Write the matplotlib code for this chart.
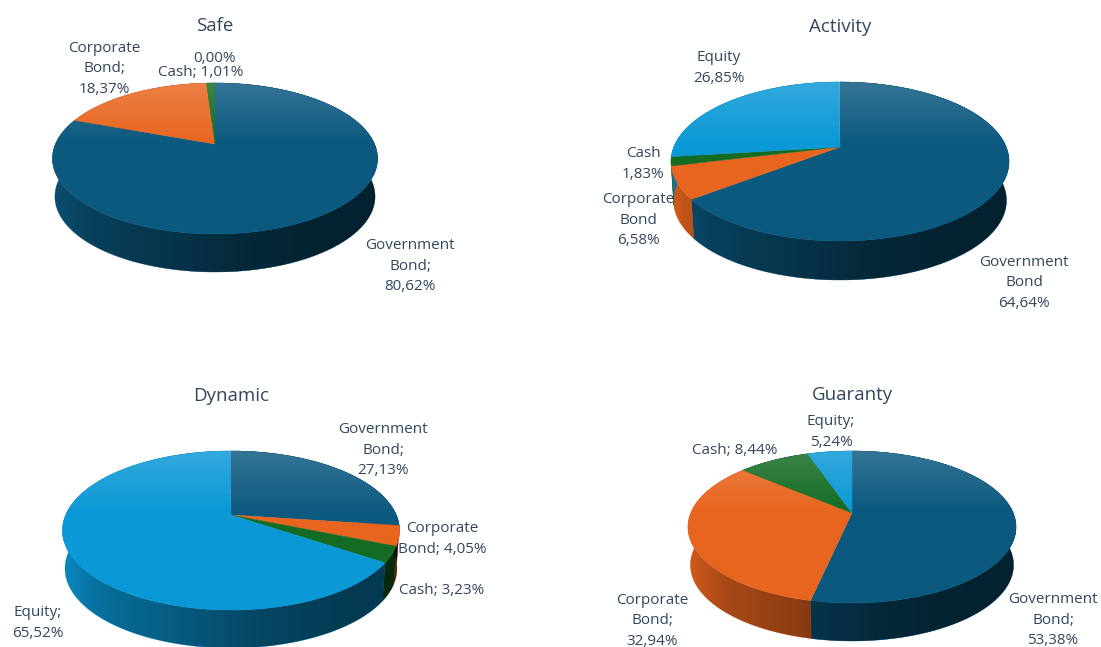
#Four pseudo 3D pie charts of the portfolio allocation, drawn in pixel coordinates of one big axes
import numpy as np
import matplotlib
matplotlib.use('Agg')
import matplotlib.pyplot as plt
from matplotlib.patches import Polygon

plt.rcParams['font.family'] = ['Open Sans', 'DejaVu Sans']

categories = ['Government Bond', 'Corporate Bond', 'Cash', 'Equity']
safe_values = [80.62, 18.37, 1.01, 0.00]
activity_values = [64.64, 6.58, 1.83, 26.85]
dynamic_values = [27.13, 4.05, 3.23, 65.52]
guaranty_values = [53.38, 32.94, 8.44, 5.24]
titles = ['Safe', 'Activity', 'Dynamic', 'Guaranty']

colors = ['#0b597f', '#e8651f', '#146c24', '#0a98d6']
text_color = '#34465c'

W, H = 1101, 647
fig = plt.figure(figsize=(W/100, H/100), dpi=100)
ax = fig.add_axes([0, 0, 1, 1])
ax.set_xlim(0, W)
ax.set_ylim(H, 0)
ax.axis('off')


def project(theta, cx, cy, left, right, top, bottom):
    """Perspective map of the unit circle. theta is clockwise from 12 o'clock, (cx, cy) is the apex"""
    k = (bottom - top)/(bottom + top)
    s = top*(1 + k)
    rx = (right - left)/2*np.sqrt(1 - k**2)
    u, v = np.sin(theta), np.cos(theta)
    w = 1 + k*v
    return cx + rx*u/w, cy - s*v/w


def draw_pie(values, cx, cy, left, right, top, bottom, depth):
    edges = np.cumsum([0] + list(values))/100*2*np.pi
    geom = (cx, cy, left, right, top, bottom)
    # side wall first, the top face covers whatever is behind it
    wall = []
    for val, a, b, col in zip(values, edges[:-1], edges[1:], colors):
        if val == 0:
            continue
        t = np.linspace(a, b, 200)
        x, y = project(t, *geom)
        x2 = cx + (x - cx)*0.985
        y2 = y + depth
        pts = np.column_stack([np.r_[x, x2[::-1]], np.r_[y, y2[::-1]]])
        ax.add_patch(Polygon(pts, closed=True, fc=col, ec=col, lw=0.3, zorder=2))
        wall.append(pts)
    # shading of the wall, goes dark to the right
    t = np.linspace(0, 2*np.pi, 400)
    x, y = project(t, *geom)
    extent = [left - 2, right + 2, y.max() + depth + 2, y.min()]
    shade = np.zeros((2, 256, 4))
    shade[:, :, 3] = np.interp(np.linspace(0, 1, 256), [0, 0.12, 0.6, 0.85, 1], [0.1, 0.28, 0.55, 0.62, 0.62])
    for pts in wall:
        im = ax.imshow(shade, extent=extent, aspect='auto', zorder=3, interpolation='bilinear')
        im.set_clip_path(Polygon(pts, closed=True, transform=ax.transData))
    # top face
    for val, a, b, col in zip(values, edges[:-1], edges[1:], colors):
        if val == 0:
            continue
        t = np.linspace(a, b, 200)
        x, y = project(t, *geom)
        pts = np.column_stack([np.r_[cx, x], np.r_[cy, y]])
        ax.add_patch(Polygon(pts, closed=True, fc=col, ec=col, lw=0.3, zorder=4))
    # light from the back of the top face
    x, y = project(np.linspace(0, 2*np.pi, 200), *geom)
    gloss = np.ones((256, 2, 4))
    gloss[:, :, 3] = np.interp(np.linspace(0, 1, 256), [0, 0.4, 1], [0.17, 0, 0])[:, None]
    im = ax.imshow(gloss, extent=[left, right, y.max(), y.min()], aspect='auto', zorder=5, interpolation='bilinear')
    im.set_clip_path(Polygon(np.column_stack([x, y]), closed=True, transform=ax.transData))


def label(x, y, s):
    ax.text(x, y + 1, s.replace('.', ','), ha='center', va='center', fontsize=11, color=text_color,
            linespacing=1.5, zorder=6)


draw_pie(safe_values, 215, 144, 52, 377, 61, 90, 38)
draw_pie(activity_values, 840, 147, 671, 1009, 65, 94, 39)
draw_pie(dynamic_values, 231, 515, 63, 400, 64, 95, 38)
draw_pie(guaranty_values, 852, 513, 688, 1016, 62, 90, 38)
ax.set_xlim(0, W)
ax.set_ylim(H, 0)

for s, x, y in zip(titles, [215, 840, 231, 852], [26, 27, 396, 395]):
    ax.text(x, y, s, ha='center', va='center', fontsize=13.5, color=text_color, zorder=6)

label(104, 68, f'Corporate\nBond;\n{safe_values[1]:.2f}%')
label(214, 57, f'{safe_values[3]:.2f}%')
label(201, 71, f'{categories[2]}; {safe_values[2]:.2f}%')
label(410, 265, f'Government\nBond;\n{safe_values[0]:.2f}%')

label(719, 67, f'Equity\n{activity_values[3]:.2f}%')
label(643, 163, f'Cash\n{activity_values[2]:.2f}%')
label(638, 219, f'Corporate\nBond\n{activity_values[1]:.2f}%')
label(1024, 282, f'Government\nBond\n{activity_values[0]:.2f}%')

label(383, 449, f'Government\nBond;\n{dynamic_values[0]:.2f}%')
label(442, 538, f'Corporate\nBond; {dynamic_values[1]:.2f}%')
label(442, 590, f'Cash; {dynamic_values[2]:.2f}%')
label(38, 622, f'Equity;\n{dynamic_values[3]:.2f}%')

label(1053, 619, f'Government\nBond;\n{guaranty_values[0]:.2f}%')
label(652, 620, f'Corporate\nBond;\n{guaranty_values[1]:.2f}%')
label(735, 449, f'Cash; {guaranty_values[2]:.2f}%')
label(831, 431, f'Equity;\n{guaranty_values[3]:.2f}%')

fig.savefig('out.png', dpi=100)
